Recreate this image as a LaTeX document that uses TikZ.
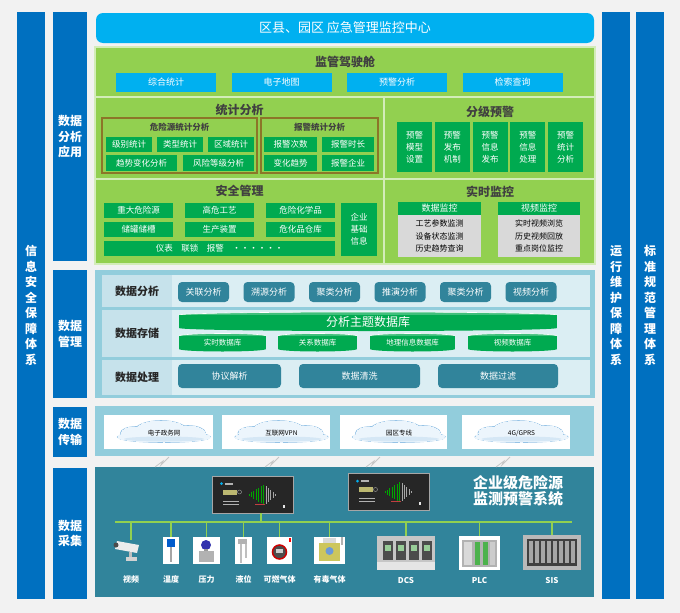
\documentclass[tikz,border=0pt]{standalone}
\usepackage{fontspec}
\setmainfont{Noto Sans CJK SC}
\definecolor{bgray}{RGB}{242,242,242}
\definecolor{sideblue}{RGB}{0,112,192}
\definecolor{skyblue}{RGB}{0,176,240}
\definecolor{lgreen}{RGB}{146,208,80}
\definecolor{dgreen}{RGB}{0,170,80}
\definecolor{grpline}{RGB}{140,118,40}
\definecolor{titlegray}{RGB}{64,64,64}
\definecolor{mblue}{RGB}{146,205,220}
\definecolor{rowblue}{RGB}{219,238,243}
\definecolor{labblue}{RGB}{198,226,235}
\definecolor{dteal}{RGB}{49,132,155}
\definecolor{lgray}{RGB}{217,217,217}
\definecolor{cloudfill}{RGB}{236,245,252}
\definecolor{cloudline}{RGB}{150,195,230}

\begin{document}
\begin{tikzpicture}[x=1pt,y=-1pt,
  sidecol/.style={fill=sideblue,text=white,inner sep=0pt,align=center,font=\fontsize{12}{15.5}\selectfont\bfseries},
  panel/.style={fill=lgreen,draw=white!60!lgreen,line width=1.2pt},
  ptitle/.style={text=titlegray,font=\fontsize{12}{14}\selectfont\bfseries},
  stitle/.style={text=titlegray,font=\fontsize{8.5}{10}\selectfont\bfseries},
  skybox/.style={fill=skyblue,text=white,minimum width=100,minimum height=19,inner sep=0pt,font=\fontsize{9}{11}\selectfont},
  gbox/.style={fill=dgreen,text=white,inner sep=0pt,align=center,font=\fontsize{8.5}{12}\selectfont},
  grp/.style={draw=grpline,line width=1.2pt,fill=lgreen},
  graybox/.style={fill=lgray,text=black,inner sep=0pt,align=center,font=\fontsize{8}{12.5}\selectfont},
  mrow/.style={fill=rowblue,inner sep=0pt,minimum width=488},
  mlabel/.style={fill=labblue,text=black!85,inner sep=0pt,minimum width=70,font=\fontsize{11}{13}\selectfont\bfseries},
  tbtn/.style={fill=dteal,text=white,rounded corners=4pt,inner sep=0pt,font=\fontsize{9}{11}\selectfont},
  dbbody/.style={fill=dgreen,text=white,inner sep=0pt},
  dbtop/.style={fill=dgreen!75!white,draw=white,line width=0.6pt},
  netbox/.style={fill=white,inner sep=0pt,minimum height=34},
  cloudtext/.style={inner sep=0pt,font=\fontsize{6.5}{8}\selectfont},
  rackbox/.style={fill=black!85,draw=gray!70,line width=0.6pt,inner sep=0pt,minimum width=81,minimum height=37},
  busline/.style={draw=lgreen,line width=2.5pt},
  drop/.style={draw=lgreen,line width=1.4pt},
  devbg/.style={fill=white,inner sep=0pt},
  devlabel/.style={text=white,font=\fontsize{8}{10}\selectfont\bfseries}]

\useasboundingbox (0,0) rectangle (680,613);
\fill[bgray] (0,0) rectangle (680,613);

% side columns
\node[sidecol,minimum width=28,minimum height=587] (infosec) at (31,305.5) {信\\息\\安\\全\\保\\障\\体\\系};
\node[sidecol,minimum width=34,minimum height=249] (layapp) at (70,136.5) {数据\\分析\\应用};
\node[sidecol,minimum width=34,minimum height=128] (laymgmt) at (70,334) {数据\\管理};
\node[sidecol,minimum width=34,minimum height=50] (laytrans) at (70,432) {数据\\传输};
\node[sidecol,minimum width=34,minimum height=131] (laycoll) at (70,533.5) {数据\\采集};
\node[sidecol,minimum width=28,minimum height=587] (opsec) at (616,305.5) {运\\行\\维\\护\\保\\障\\体\\系};
\node[sidecol,minimum width=28,minimum height=587] (stdmgmt) at (650,305.5) {标\\准\\规\\范\\管\\理\\体\\系};

% top
\node[fill=skyblue,rounded corners=7pt,minimum width=498,minimum height=30,inner sep=0pt,text=white,font=\fontsize{13}{15}\selectfont] (monctr) at (345,28) {区县、园区\ 应急管理监控中心};

% cockpit
\draw[panel] (95,47) rectangle (595,97);
\node[ptitle] (cockpit) at (345,62) {监管驾驶舱};
\foreach \t [count=\i] in {综合统计,电子地图,预警分析,检索查询}
  \node[skybox] (cock\i) at (50.5+115.5*\i,82.5) {\t};

% statistics
\draw[panel] (95,97) rectangle (384,179);
\node[ptitle] (stat) at (239.5,110) {统计分析};
\draw[grp] (102,118) rectangle (257,173);
\node[stitle] (hazstat) at (179.5,127.5) {危险源统计分析};
\foreach \t [count=\i] in {级别统计,类型统计,区域统计}
  \node[gbox,minimum width=46,minimum height=15] (haz\i) at (78+51*\i,144.5) {\t};
\node[gbox,minimum width=71,minimum height=16] (haztrend) at (141.5,163) {趋势变化分析};
\node[gbox,minimum width=71,minimum height=16] (hazrisk) at (218.5,163) {风险等级分析};
\draw[grp] (261,118) rectangle (378,173);
\node[stitle] (alstat) at (319.5,127.5) {报警统计分析};
\node[gbox,minimum width=53,minimum height=15] (al1) at (290.5,144.5) {报警次数};
\node[gbox,minimum width=52,minimum height=15] (al2) at (348,144.5) {报警时长};
\node[gbox,minimum width=53,minimum height=16] (al3) at (290.5,163) {变化趋势};
\node[gbox,minimum width=52,minimum height=16] (al4) at (348,163) {报警企业};

% grading
\draw[panel] (384,97) rectangle (595,179);
\node[ptitle] (grade) at (490,112) {分级预警};
\foreach \t [count=\i] in {{预警\\模型\\设置},{预警\\发布\\机制},{预警\\信息\\发布},{预警\\信息\\处理},{预警\\统计\\分析}}
  \node[gbox,minimum width=35,minimum height=50] (gw\i) at (376.75+37.75*\i,147) {\t};

% safety
\draw[panel] (95,179) rectangle (384,264);
\node[ptitle] (safety) at (239.5,191) {安全管理};
\foreach \t/\x/\y [count=\i] in {重大危险源/138.5/210.5,高危工艺/219.5/210.5,危险化学品/300.5/210.5,储罐储槽/138.5/229.5,生产装置/219.5/229.5,危化品仓库/300.5/229.5}
  \node[gbox,minimum width=69,minimum height=15] (sf\i) at (\x,\y) {\t};
\node[gbox,minimum width=231,minimum height=15] (sfmeter) at (219.5,248.5) {仪表\quad 联锁\quad 报警\quad ······};
\node[gbox,minimum width=36,minimum height=53] (sfbase) at (359,229.5) {企业\\基础\\信息};

% realtime
\draw[panel] (384,179) rectangle (595,264);
\node[ptitle] (rtmon) at (490,192) {实时监控};
\node[gbox,minimum width=83,minimum height=13,font=\fontsize{9}{11}\selectfont] (datamon) at (439.5,208.5) {数据监控};
\node[graybox,minimum width=83,minimum height=42] (datalist) at (439.5,236) {工艺参数监测\\设备状态监测\\历史趋势查询};
\node[gbox,minimum width=82,minimum height=13,font=\fontsize{9}{11}\selectfont] (videomon) at (539,208.5) {视频监控};
\node[graybox,minimum width=82,minimum height=42] (videolist) at (539,236) {实时视频浏览\\历史视频回放\\重点岗位监控};

% data management
\fill[mblue] (95,270) rectangle (595,398);
\node[mrow,minimum height=32] (rowana) at (346,291) {};
\node[mrow,minimum height=47] (rowsto) at (346,333.5) {};
\node[mrow,minimum height=35] (rowpro) at (346,377.5) {};
\node[mlabel,minimum height=32] (labana) at (137,291) {数据分析};
\node[mlabel,minimum height=47] (labsto) at (137,333.5) {数据存储};
\node[mlabel,minimum height=35] (labpro) at (137,377.5) {数据处理};
\foreach \t [count=\i] in {关联分析,溯源分析,聚类分析,推演分析,聚类分析,视频分析}
  \node[tbtn,minimum width=51,minimum height=20] (ana\i) at (138+65.5*\i,292) {\t};
\fill[dgreen] (368,328) ellipse (189pt and 3pt);
\filldraw[dbtop] (368,315) ellipse (189pt and 3pt);
\node[dbbody,minimum width=378,minimum height=13,font=\fontsize{12}{14}\selectfont] (dbmain) at (368,321.5) {分析主题数据库};
\foreach \t/\x/\w [count=\i] in {实时数据库/222.5/87,关系数据库/317.5/79,地理信息数据库/412.5/85,视频数据库/512.5/89}
{
  \pgfmathsetmacro\r{\w/2}
  \fill[dgreen] (\x,349) ellipse (\r pt and 2.5pt);
  \filldraw[dbtop] (\x,336) ellipse (\r pt and 2.5pt);
  \node[dbbody,minimum width=\w,minimum height=13,font=\fontsize{7.5}{9}\selectfont] (db\i) at (\x,342.5) {\t};
}
\node[tbtn,minimum width=103,minimum height=24] (proto) at (229.5,376) {协议解析};
\node[tbtn,minimum width=121,minimum height=24] (clean) at (359.5,376) {数据清洗};
\node[tbtn,minimum width=120,minimum height=24] (filter) at (498,376) {数据过滤};

% transfer
\fill[mblue] (95,406) rectangle (594,456);
\node[netbox,minimum width=109] (net1) at (158.5,432) {};
\node[netbox,minimum width=108] (net2) at (276,432) {};
\node[netbox,minimum width=107] (net3) at (393.5,432) {};
\node[netbox,minimum width=108] (net4) at (516,432) {};
\foreach \x in {164,281.5,399,521.5}
{
  \begin{scope}[shift={(\x,432)}]
    \foreach \pass/\lw in {cloudline/1.6pt,cloudfill/0pt}
    {
      \filldraw[fill=\pass,draw=\pass,line width=\lw] (0,5) ellipse (46pt and 5pt);
      \filldraw[fill=\pass,draw=\pass,line width=\lw] (-28,1) ellipse (15pt and 6pt);
      \filldraw[fill=\pass,draw=\pass,line width=\lw] (-3,-1) ellipse (26pt and 10pt);
      \filldraw[fill=\pass,draw=\pass,line width=\lw] (24,1) ellipse (17pt and 7pt);
    }
    \fill[cloudline!40!white] (0,7) ellipse (40pt and 2.5pt);
  \end{scope}
}
\node[cloudtext] (cloud1) at (164,433) {电子政务网};
\node[cloudtext] (cloud2) at (281.5,433) {互联网VPN};
\node[cloudtext] (cloud3) at (399,433) {园区专线};
\node[cloudtext] (cloud4) at (521.5,433) {4G/GPRS};

% collection
\fill[dteal] (95,467) rectangle (594,597);
\foreach \x in {162,272,373,503}
  \draw[gray!45,line width=0.8pt] (\x-7,467) -- (\x+1,461) -- (\x-1,465) -- (\x+7,457);
\node[rackbox] (rack1) at (252.5,494.5) {};
\node[rackbox] (rack2) at (388.5,492) {};
\foreach \rk in {rack1,rack2}
{
  \begin{scope}[shift={(\rk.center)}]
    \fill[skyblue] (-31,-11) circle (1.5pt);
    \fill[gray!60] (-28,-12) rectangle (-20,-10);
    \fill[yellow!40!gray] (-30,-5) rectangle (-16,0);
    \draw[gray!70,line width=0.4pt] (-13,-2.5) circle (2pt);
    \fill[gray!60] (-30,6) rectangle (-14,7);
    \fill[gray!60] (-30,9) rectangle (-14,10);
    \foreach \k in {0,...,6}
      \fill[green!65!black] (-4+\k*2.4,-1-\k*1.5) rectangle (-3+\k*2.4,1+\k*1.5);
    \foreach \k in {0,...,4}
      \fill[gray!70] (13+\k*2.4,-9+\k*2) rectangle (14+\k*2.4,9-\k*2);
    \fill[red!50!gray] (2,9) rectangle (12,10);
    \fill[white!80!gray] (30,10) rectangle (32,13);
  \end{scope}
}
\node[text=white,align=center,font=\fontsize{15}{16.5}\selectfont\bfseries] (esys) at (518,491) {企业级危险源\\监测预警系统};
\coordinate (busL) at (115,522);
\coordinate (busR) at (572,522);
\coordinate (tap) at (261,522);
\draw[busline] (busL) -- (busR);
\draw[drop] (rack1.south -| tap) -- (tap);

% devices
\node[inner sep=0pt,minimum width=25,minimum height=20] (cam) at (131,550) {};
\node[devbg,minimum width=16,minimum height=27] (temp) at (171,550.5) {};
\node[devbg,minimum width=27,minimum height=27] (press) at (206.5,550.5) {};
\node[devbg,minimum width=17,minimum height=27] (level) at (243.5,550.5) {};
\node[devbg,minimum width=25,minimum height=27] (flam) at (279.5,550.5) {};
\node[devbg,minimum width=31,minimum height=27] (toxic) at (329.5,550.5) {};
\node[fill=gray!45,inner sep=0pt,minimum width=58,minimum height=34] (dcs) at (406,553) {};
\node[devbg,minimum width=41,minimum height=34] (plc) at (479.5,553) {};
\node[fill=gray!55,inner sep=0pt,minimum width=58,minimum height=35] (sis) at (552,552.5) {};
\foreach \d in {cam,temp,press,level,flam,toxic,dcs,plc,sis}
  \draw[drop] (\d.north |- busL) -- (\d.north);

% camera
\fill[gray!15] (117,541) -- (139,545) -- (137,553) -- (115,549) -- cycle;
\fill[black!70] (116,545) circle (2.5pt);
\fill[gray!50] (129,552) rectangle (132,558);
\fill[gray!35] (126,557) rectangle (137,561);
% temperature
\fill[blue!55!cyan!80!black] (167,539) rectangle (175,547);
\fill[gray!70] (170,547) rectangle (172,562);
% pressure
\fill[blue!60!black!80] (206,545) circle (5pt);
\fill[gray!80] (204,549) rectangle (208,552);
\fill[gray!60] (199,551) rectangle (214,562);
% level
\fill[gray!60] (238,539) rectangle (247,544);
\fill[gray!50] (240,544) rectangle (242,563);
\fill[gray!50] (245,544) rectangle (247,558);
% flammable gas
\draw[red!80!black,line width=1.5pt,fill=black!70] (279.5,552) circle (7pt);
\fill[gray!40] (276,549) rectangle (283,553);
\fill[red] (289,538) rectangle (291,542);
% toxic gas
\fill[gray!30] (323,538) rectangle (336,543);
\fill[yellow!55!gray] (319,543) rectangle (340,561);
\fill[cyan!50!blue!60] (329.5,551) circle (4pt);
\fill[gray!60] (341,537) rectangle (343,545);
% DCS
\foreach \k in {0,...,3}
{
  \fill[black!70] (383+\k*13,541) rectangle (393+\k*13,560);
  \fill[green!35!gray!60] (385+\k*13,545) rectangle (391+\k*13,551);
}
\fill[gray!20] (377,562) rectangle (435,570);
% PLC
\fill[gray!60] (462,540) rectangle (497,567);
\fill[gray!30] (464,542) rectangle (472,565);
\fill[green!40!gray] (475,542) rectangle (480,565);
\fill[green!40!gray] (483,542) rectangle (488,565);
\fill[gray!40] (490,542) rectangle (495,565);
% SIS
\fill[black!75] (527,539) rectangle (577,566);
\foreach \k in {0,...,7}
  \fill[gray!70] (529+\k*6,541) rectangle (533+\k*6,563);

\foreach \d/\t in {cam/视频,temp/温度,press/压力,level/液位,flam/可燃气体,toxic/有毒气体}
  \node[devlabel] (\d-lab) at (\d |- 0,579) {\t};
\foreach \d/\t in {dcs/DCS,plc/PLC,sis/SIS}
  \node[devlabel] (\d-lab) at (\d |- 0,581) {\t};

\end{tikzpicture}
\end{document}
